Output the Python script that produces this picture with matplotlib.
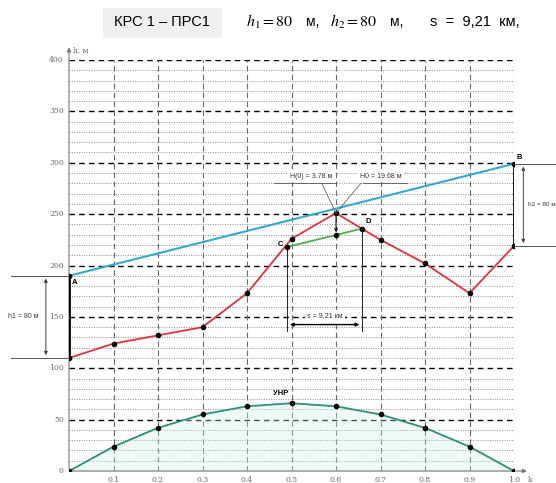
import numpy as np
import matplotlib.pyplot as plt

plt.rcParams['mathtext.fontset'] = 'stix'
plt.rcParams['font.family'] = ['Liberation Sans', 'DejaVu Sans']

# relative distance along the path
k = [0.0, 0.1, 0.2, 0.3, 0.4, 0.5, 0.6, 0.7, 0.8, 0.9, 1.0]
# terrain profile with earth bulge, m
profile = [110, 124, 132, 140, 173, 226, 251, 225, 202, 173, 219]
# earth bulge (УНР), m
bulge = [0, 23.7, 42, 55, 63, 66, 63, 55, 42, 23.7, 0]

h1 = 80
h2 = 80
s_km = 9.21
point_c = (0.49, 218)
point_d = (0.659, 236)
k_peak = 0.6

red = '#e0323c'
blue = '#35a8d0'
green = '#4caf50'
teal = '#2f8f7c'
grid_c = '#6a6a6a'
tick_c = '#666666'

fig = plt.figure(figsize=(5.56, 4.83), dpi=100)
ax = fig.add_axes([69 / 556, 12 / 483, 445 / 556, 411 / 483])
ax.set_xlim(0, 1.0)
ax.set_ylim(0, 400)
ax.axis('off')

# grid: dashed every 50 m, dotted every 10 m, dashed verticals every 0.1
for y in range(10, 400, 10):
    if y % 50:
        ax.plot([0, 1], [y, y], color='#8a8a8a', lw=0.7, ls=(0, (1, 1.5)), zorder=1)
for y in range(50, 401, 50):
    ax.plot([0, 1], [y, y], color='black', lw=1.0, ls=(0, (4, 3)), zorder=1)
for x in k[1:]:
    ax.plot([x, x], [0, 400], color=grid_c, lw=0.8, ls=(0, (5, 3)), zorder=1)

# axes with arrows
ax.annotate('', xy=(0, 415), xytext=(0, 0), annotation_clip=False,
            arrowprops=dict(arrowstyle='-|>', color='#777777', lw=0.8, mutation_scale=6))
ax.annotate('', xy=(1.035, 0), xytext=(0, 0), annotation_clip=False,
            arrowprops=dict(arrowstyle='-|>', color='#777777', lw=0.8, mutation_scale=6))
ax.text(0.008, 410, 'h, м', fontsize=5.5, color=tick_c, family='DejaVu Serif',
        ha='left', va='center')
ax.text(1.03, -9, 'k', fontsize=5.5, color=tick_c, family='DejaVu Serif',
        ha='left', va='center', clip_on=False)
for y in range(0, 401, 50):
    ax.text(-0.012, y, str(y), fontsize=5.5, color=tick_c, family='DejaVu Serif',
            ha='right', va='center')
for x in k[1:]:
    lbl = '1.0' if x == 1.0 else f'{x:.1f}'
    ax.text(x, -9, lbl, fontsize=5.5, color=tick_c, family='DejaVu Serif',
            ha='center', va='center', clip_on=False)

# earth bulge curve
ax.plot(k, bulge, color=teal, lw=1.3, zorder=3)
ax.fill_between(k, bulge, 0, color='#d8efe9', alpha=0.35, zorder=2)
ax.scatter(k, bulge, s=9, color='black', zorder=4)
ax.text(0.475, 72, 'УНР', fontsize=5.5, fontweight='bold', ha='center', va='bottom')

# antenna heights
a_y = profile[0] + h1
b_y = profile[-1] + h2
ax.plot([0, 0], [profile[0], a_y], color='black', lw=2.0, zorder=4)
ax.plot([1, 1], [profile[-1], b_y], color='black', lw=2.0, zorder=4)

# line of sight A-B
ax.plot([0, 1], [a_y, b_y], color=blue, lw=1.5, zorder=3)

# terrain profile
ax.plot(k, profile, color=red, lw=1.3, zorder=3)
ax.scatter(k, profile, s=9, color='black', zorder=4)
ax.scatter([0, 1], [a_y, b_y], s=9, color='black', zorder=4)

# reflecting segment C-D
ax.plot([point_c[0], point_d[0]], [point_c[1], point_d[1]], color=green, lw=1.3, zorder=3)
cd_at_peak = np.interp(k_peak, [point_c[0], point_d[0]], [point_c[1], point_d[1]])
ax.scatter([point_c[0], point_d[0], k_peak], [point_c[1], point_d[1], cd_at_peak],
           s=9, color='black', zorder=4)
ax.annotate('', xy=(k_peak, cd_at_peak), xytext=(k_peak, profile[6]),
            arrowprops=dict(arrowstyle='->', color='black', lw=0.7, mutation_scale=5), zorder=4)

ax.text(0.007, a_y - 3, 'A', fontsize=5.5, fontweight='bold', ha='left', va='top')
ax.text(1.005, b_y + 3, 'B', fontsize=5.5, fontweight='bold', ha='left', va='bottom')
ax.text(point_c[0] - 0.008, point_c[1] + 2, 'C', fontsize=5.5, fontweight='bold',
        ha='right', va='center')
ax.text(point_d[0] + 0.008, point_d[1] + 7, 'D', fontsize=5.5, fontweight='bold',
        ha='left', va='center')

# path length dimension between C and D
s_text = f'{s_km:.2f}'.replace('.', ',')
dim_y = 142.5
for p in (point_c, point_d):
    ax.plot([p[0], p[0]], [p[1], dim_y - 6], color='black', lw=0.6, zorder=3)
ax.annotate('', xy=(point_c[0], dim_y), xytext=(point_d[0], dim_y),
            arrowprops=dict(arrowstyle='<|-|>', color='black', lw=1.0, mutation_scale=5), zorder=4)
ax.text((point_c[0] + point_d[0]) / 2, dim_y + 9, f's = {s_text} км',
        fontsize=5, ha='center', va='center', color='#333333',
        bbox=dict(facecolor='white', edgecolor='none', pad=1.5), zorder=4)

# clearance labels with leaders to the peak
ax.plot([0.46, 0.60], [280, 280], color='#555555', lw=0.6, zorder=4)
ax.plot([0.66, 0.76], [280, 280], color='#555555', lw=0.6, zorder=4)
ax.plot([0.568, k_peak], [280, profile[6]], color='#666666', lw=0.6, zorder=4)
ax.plot([0.656, k_peak], [280, profile[6]], color='#666666', lw=0.6, zorder=4)
ax.text(0.545, 287, 'H(0) = 3.78 м', fontsize=5, ha='center', va='center', color='#333333',
        bbox=dict(facecolor='white', edgecolor='none', pad=1.5), zorder=4)
ax.text(0.7, 287, 'H0 = 19.68 м', fontsize=5, ha='center', va='center', color='#333333',
        bbox=dict(facecolor='white', edgecolor='none', pad=1.5), zorder=4)

# h1 dimension on the left
ax.plot([-0.13, 0], [profile[0], profile[0]], color='#555555', lw=0.7, clip_on=False)
ax.plot([-0.13, 0], [a_y, a_y], color='#555555', lw=0.7, clip_on=False)
ax.annotate('', xy=(-0.052, profile[0]), xytext=(-0.052, a_y), annotation_clip=False,
            arrowprops=dict(arrowstyle='<|-|>', color='#444444', lw=0.7, mutation_scale=5))
ax.text(-0.103, 150, f'h1 = {h1} м', fontsize=5, ha='center', va='center', color='#333333')

# h2 dimension on the right
ax.plot([1, 1.095], [profile[-1], profile[-1]], color='#555555', lw=0.7, clip_on=False)
ax.plot([1, 1.095], [b_y, b_y], color='#555555', lw=0.7, clip_on=False)
ax.annotate('', xy=(1.021, profile[-1]), xytext=(1.021, b_y), annotation_clip=False,
            arrowprops=dict(arrowstyle='<|-|>', color='#444444', lw=0.7, mutation_scale=5))
ax.text(1.032, 259, f'h2 = {h2} м', fontsize=4.6, ha='left', va='center', color='#333333')

# header line
fig.patches.append(plt.Rectangle((103 / 556, 1 - 38 / 483), 119 / 556, 30 / 483,
                                 transform=fig.transFigure, facecolor='#efefef',
                                 edgecolor='none'))
hy = 1 - 22 / 483
fig.text(162 / 556, hy, 'КРС 1 – ПРС1', fontsize=10.5, ha='center', va='center')
fig.text(246 / 556, hy, rf'$h_1 = {h1}$', fontsize=11.5, ha='left', va='center')
fig.text(306 / 556, hy, 'м,', fontsize=10, ha='left', va='center')
fig.text(330 / 556, hy, rf'$h_2 = {h2}$', fontsize=11.5, ha='left', va='center')
fig.text(390 / 556, hy, 'м,', fontsize=10, ha='left', va='center')
fig.text(430 / 556, hy, f's  =  {s_text}  км,', fontsize=10.5, ha='left', va='center')

fig.savefig('out.png', dpi=100)
